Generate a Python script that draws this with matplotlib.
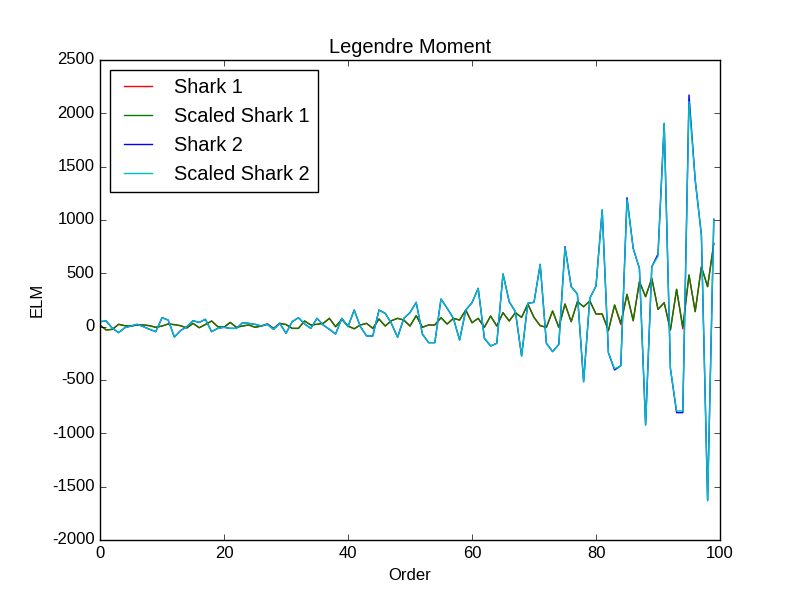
import matplotlib
matplotlib.use("Agg")
import matplotlib.pyplot as plt

plt.style.use("classic")
plt.rcParams["font.family"] = ["Liberation Sans", "DejaVu Sans"]
plt.rcParams["axes.unicode_minus"] = False

orders = list(range(100))

shark1 = [15, -31, -25, 22, 9, 6, 16, 16, 9, -6,
          6, 25, 19, 9, -12, 31, -10, 20, 53, 0,
          -6, 40, -6, 6, 16, -6, 6, 25, -16, 31,
          20, -16, -16, 53, 16, 22, 31, 78, 0, 69,
          6, -20, 16, 31, -16, 72, 6, 56, 78, 62,
          6, 103, -6, 16, 16, 84, 25, 78, 62, 156,
          37, 78, -6, 100, 6, 131, 53, 131, 87, 212,
          87, 9, -6, 147, -6, 212, 47, 234, 187, 241,
          119, 119, -37, 203, 20, 303, 56, 422, 281, 453,
          162, 225, -31, 350, -20, 484, 141, 562, 375, 781]

scaled_shark1 = [15, -31, -25, 22, 9, 6, 16, 16, 9, -6,
                 6, 25, 19, 9, -12, 31, -10, 20, 53, 0,
                 -6, 40, -6, 6, 16, -6, 6, 25, -16, 31,
                 20, -16, -16, 53, 16, 22, 31, 78, 0, 69,
                 6, -20, 16, 31, -16, 72, 6, 56, 78, 62,
                 6, 103, -6, 16, 16, 84, 25, 78, 62, 156,
                 37, 78, -6, 100, 6, 131, 53, 131, 87, 212,
                 87, 9, -6, 147, -6, 212, 47, 234, 187, 241,
                 119, 119, -37, 203, 37, 303, 56, 422, 281, 453,
                 162, 225, -31, 350, 0, 484, 141, 562, 375, 781]

shark2 = [47, 53, -15, -56, -10, 6, 22, 0, -25, -47,
          84, 62, -97, -37, 0, 56, 40, 69, -47, -16,
          -6, -16, -16, 37, 31, 22, 6, 22, -25, 31,
          -62, 47, 84, 25, -16, 78, 16, -25, -69, 78,
          0, 156, 0, -87, -87, 156, 125, 31, -100, 78,
          131, 228, -69, -150, -150, 259, 172, 78, -125, 156,
          225, 359, -109, -181, -156, 494, 234, 141, -275, 219,
          228, 584, -156, -234, -166, 750, 375, 306, -516, 266,
          381, 1094, -244, -406, -366, 1209, 734, 547, -922, 562,
          681, 1906, -391, -806, -806, 2172, 1375, 859, -1631, 1006]

scaled_shark2 = [47, 53, -15, -56, -10, 6, 22, 0, -25, -47,
                 84, 62, -97, -37, 0, 56, 40, 69, -47, -16,
                 -6, -16, -16, 37, 31, 22, 6, 22, -25, 31,
                 -62, 47, 84, 25, -16, 78, 16, -25, -69, 78,
                 0, 156, 0, -87, -87, 156, 125, 31, -100, 78,
                 131, 228, -69, -150, -150, 259, 172, 78, -125, 156,
                 225, 359, -109, -181, -156, 494, 234, 141, -275, 219,
                 228, 584, -156, -234, -166, 740, 375, 306, -516, 266,
                 381, 1094, -244, -395, -366, 1190, 734, 547, -922, 562,
                 660, 1906, -391, -790, -790, 2110, 1375, 859, -1631, 1006]

fig, ax = plt.subplots(figsize=(8, 6), dpi=100)
ax.plot(orders, shark1, color="r", label="Shark 1")
ax.plot(orders, scaled_shark1, color="g", label="Scaled Shark 1")
ax.plot(orders, shark2, color="b", label="Shark 2")
ax.plot(orders, scaled_shark2, color="c", label="Scaled Shark 2")
ax.set_xlim(0, 100)
ax.set_ylim(-2000, 2500)
ax.set_title("Legendre Moment")
ax.set_xlabel("Order")
ax.set_ylabel("ELM")
ax.legend(loc="upper left")
fig.savefig("out.png", dpi=100)
